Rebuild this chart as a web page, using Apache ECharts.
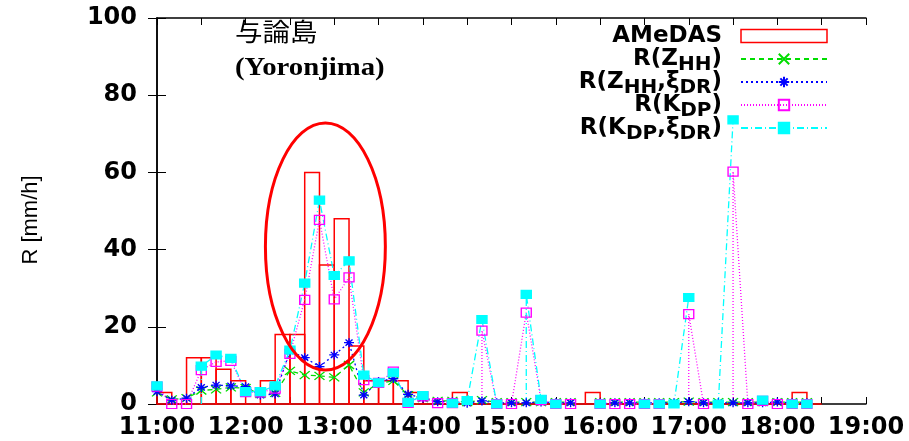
<!DOCTYPE html>
<html>
<head>
<meta charset="utf-8">
<script src="https://cdn.jsdelivr.net/npm/echarts@6/dist/echarts.min.js"></script>
<style>
  html, body { margin: 0; padding: 0; background: #fff; }
  #main { width: 909px; height: 441px; }
</style>
</head>
<body>
<div id="main"></div>
<script>
// 10-minute steps, 11:00 - 18:20
const times = ['11:00', '11:10', '11:20', '11:30', '11:40', '11:50',
  '12:00', '12:10', '12:20', '12:30', '12:40', '12:50',
  '13:00', '13:10', '13:20', '13:30', '13:40', '13:50',
  '14:00', '14:10', '14:20', '14:30', '14:40', '14:50',
  '15:00', '15:10', '15:20', '15:30', '15:40', '15:50',
  '16:00', '16:10', '16:20', '16:30', '16:40', '16:50',
  '17:00', '17:10', '17:20', '17:30', '17:40', '17:50',
  '18:00', '18:10', '18:20'];

// AMeDAS rain gauge (10-min boxes)
const amedas = [3, 0, 12, 12, 9, 6, 0, 6, 18, 18, 60, 36, 48, 15, 6, 6, 6, 3, 0, 0,
  3, 0, 0, 0, 0, 0, 0, 0, 0, 3, 0, 0, 0, 0, 0, 0, 0, 0, 0, 0, 0, 0, 0, 3, 0];

// radar estimates (null = missing)
const rZhh = [3.0, 1.2, 1.5, 3.5, 3.8, 4.3, 4.1, 2.6, 2.9, 8.6, 7.5, 7.3, 6.9, 10.1, 3.0, 5.3, 6.0, 2.3, 1.5, 0.8,
  0.8, 0.5, 1.0, 0.5, 0.5, 0.5, 0.5, 0.5, 0.5, null, 0.5, 0.5, 0.5, 0.5, 0.5, 0.5, 0.6, 0.5, 0.5, 0.5,
  0.5, 0.5, 0.5, 0.5, 0.5];
const rZhhXi = [3.2, 1.0, 1.5, 4.3, 4.9, 4.7, 4.5, 2.3, 2.6, 13.7, 12.0, 9.7, 12.7, 15.9, 2.3, 5.8, 6.6, 2.5, 1.5, 0.6,
  0.6, 0.2, 0.8, 0.3, 0.3, 0.3, 0.5, 0.3, 0.3, null, 0.3, 0.3, 0.3, 0.3, 0.3, 0.3, 0.6, 0.3, 0.3, 0.3,
  0.3, 0.3, 0.5, 0.3, 0.3];
const rKdp = [4.5, 0, 0, 8.8, 10.9, 11.2, 3.1, 3.0, 4.0, 13.0, 27.0, 47.7, 27.1, 32.8, 6.2, 5.5, 8.4, 0.3, 2.0, 0.2,
  0.2, null, 19.0, 0, 0, 23.7, 1.0, 0, 0, null, 0, 0, 0, 0, 0, null, 23.3, 0, null, 60.2,
  0, 0.8, 0, 0, 0];
const rKdpXi = [4.7, null, null, 9.8, 12.7, 11.8, 3.2, 3.2, 4.7, 14.0, 31.3, 52.8, 33.3, 37.1, 7.5, 5.5, 8.1, 0.4, 2.2, null,
  0.2, 0.9, 21.9, 0, null, 28.4, 1.2, 0, null, null, 0, null, null, 0, 0, 0, 27.6, null, 0, 73.6,
  null, 1.0, null, 0, 0];

const yTicks = [0, 20, 40, 60, 80, 100];

const toMin = (t) => {
  const p = t.split(':');
  return (+p[0] - 11) * 60 + (+p[1]);
};
const pairs = (vals) => times.map((t, i) => [toMin(t), vals[i]]);

// line data: gap at a missing value, the next value rises from the axis
const lineData = (vals) => {
  const out = [];
  times.forEach((t, i) => {
    const x = toMin(t);
    if (vals[i] == null) {
      out.push([x, '-']);
      return;
    }
    if (i > 0 && vals[i - 1] == null) {
      out.push({ value: [x, 0], symbol: 'none' });
    }
    out.push([x, vals[i]]);
  });
  return out;
};

const sym = {
  cross: 'path://M0,0L10,10M10,0L0,10',
  star: 'path://M5,0L5,10M0,5L10,5M1.5,1.5L8.5,8.5M8.5,1.5L1.5,8.5'
};

const labelFmt = {
  'AMeDAS': 'AMeDAS',
  'R(Zhh)': 'R(Z{s|HH})',
  'R(Zhh,xi)': 'R(Z{s|HH},ξ{s|DR})',
  'R(Kdp)': 'R(K{s|DP})',
  'R(Kdp,xi)': 'R(K{s|DP},ξ{s|DR})'
};

const font = 'DejaVu Sans';
const chart = echarts.init(document.getElementById('main'));

const lineSeries = (name, vals, color, type, symbol, size, fill) => ({
  name: name,
  type: 'line',
  data: lineData(vals),
  connectNulls: false,
  symbol: symbol,
  symbolSize: size,
  lineStyle: { color: color, width: 1.3, type: type },
  itemStyle: { color: fill, borderColor: color, borderWidth: 1.3 },
  emphasis: { disabled: true },
  animation: false
});

chart.setOption({
  animation: false,
  grid: { left: 157, right: 43, top: 18, bottom: 37 },
  legend: {
    orient: 'vertical',
    align: 'right',
    right: 76,
    top: 15,
    itemWidth: 86,
    itemHeight: 13,
    itemGap: -9,
    selectedMode: false,
    formatter: (n) => labelFmt[n],
    textStyle: {
      fontFamily: font, fontSize: 23, fontWeight: 'bold', color: '#000',
      lineHeight: 32, verticalAlign: 'top', padding: [0, 14, 0, 0],
      rich: {
        s: { fontFamily: font, fontSize: 20, fontWeight: 'bold', lineHeight: 32, verticalAlign: 'bottom' }
      }
    },
    data: [
      { name: 'AMeDAS', icon: 'rect', itemStyle: { color: '#fff', borderColor: '#ff0000', borderWidth: 1.5 } },
      'R(Zhh)', 'R(Zhh,xi)', 'R(Kdp)', 'R(Kdp,xi)'
    ]
  },
  xAxis: [{
    type: 'value', min: 0, max: 480, interval: 30,
    axisLine: { onZero: false, lineStyle: { color: '#000', width: 1.5 } },
    axisTick: { inside: true, length: 7, lineStyle: { color: '#000' } },
    splitLine: { show: false },
    axisLabel: {
      margin: 12, fontFamily: font, fontSize: 24, fontWeight: 'bold', color: '#000',
      formatter: (v) => v % 60 === 0 ? (11 + v / 60) + ':00' : ''
    }
  }, {
    type: 'value', position: 'top', min: 0, max: 480, interval: 30,
    axisLine: { onZero: false, lineStyle: { color: '#000', width: 1.5 } },
    axisTick: { inside: true, length: 7, lineStyle: { color: '#000' } },
    splitLine: { show: false }, axisLabel: { show: false }
  }],
  yAxis: [{
    type: 'value', min: yTicks[0], max: yTicks[yTicks.length - 1], interval: 20,
    axisLine: { show: true, lineStyle: { color: '#000', width: 1.5 } },
    axisTick: { show: true, inside: true, length: 9, lineStyle: { color: '#000' } },
    splitLine: { show: false },
    axisLabel: { margin: 20, fontFamily: font, fontSize: 24, fontWeight: 'bold', color: '#000' }
  }, {
    type: 'value', position: 'right', min: 0, max: 100, interval: 20,
    axisLine: { show: true, lineStyle: { color: '#000', width: 1.5 } },
    axisTick: { show: true, inside: true, length: 9, lineStyle: { color: '#000' } },
    splitLine: { show: false }, axisLabel: { show: false }
  }],
  series: [
    {
      name: 'AMeDAS',
      type: 'custom',
      data: pairs(amedas),
      itemStyle: { color: '#ff0000' },
      renderItem: (params, api) => {
        const x = api.value(0);
        const p0 = api.coord([x, api.value(1)]);
        const p1 = api.coord([x + 10, 0]);
        return {
          type: 'rect',
          shape: { x: p0[0], y: p0[1], width: p1[0] - p0[0], height: p1[1] - p0[1] },
          style: { fill: 'none', stroke: '#ff0000', lineWidth: 1.5 }
        };
      },
      animation: false
    },
    lineSeries('R(Zhh)', rZhh, '#00dd00', [5, 4], sym.cross, [10, 8], 'rgba(0,0,0,0)'),
    lineSeries('R(Zhh,xi)', rZhhXi, '#0000ff', [2, 3], sym.star, [10, 9], 'rgba(0,0,0,0)'),
    lineSeries('R(Kdp)', rKdp, '#ff00ff', [1, 2], 'rect', [10, 9], 'rgba(255,255,255,0)'),
    lineSeries('R(Kdp,xi)', rKdpXi, '#00ffff', [7, 3, 1, 3], 'rect', [10, 8], '#00ffff')
  ]
});

// annotation: ellipse around the 12:40-13:10 peak, station name, y title
const c = chart.convertToPixel({ gridIndex: 0 }, [114, 40.8]);
const e = chart.convertToPixel({ gridIndex: 0 }, [114 + 40.6, 40.8 - 32]);
chart.setOption({
  graphic: [
    {
      type: 'ellipse',
      shape: { cx: c[0], cy: c[1], rx: e[0] - c[0], ry: e[1] - c[1] },
      style: { fill: 'none', stroke: '#ff0000', lineWidth: 3 },
      z: 10
    },
    {
      type: 'text', left: 235, top: 19, scaleX: 1.1,
      style: { text: '与論島', font: '25px "Noto Sans CJK JP"', fill: '#000' }
    },
    {
      type: 'text', left: 235, top: 56, scaleX: 1.15,
      style: { text: '(Yoronjima)', font: 'bold 25px "Liberation Serif"', fill: '#000' }
    },
    {
      type: 'text', x: 31, y: 220, rotation: Math.PI / 2,
      style: {
        text: 'R [mm/h]', font: '22px "Liberation Sans"', fill: '#000',
        align: 'center', verticalAlign: 'middle'
      }
    }
  ]
});
</script>
</body>
</html>
